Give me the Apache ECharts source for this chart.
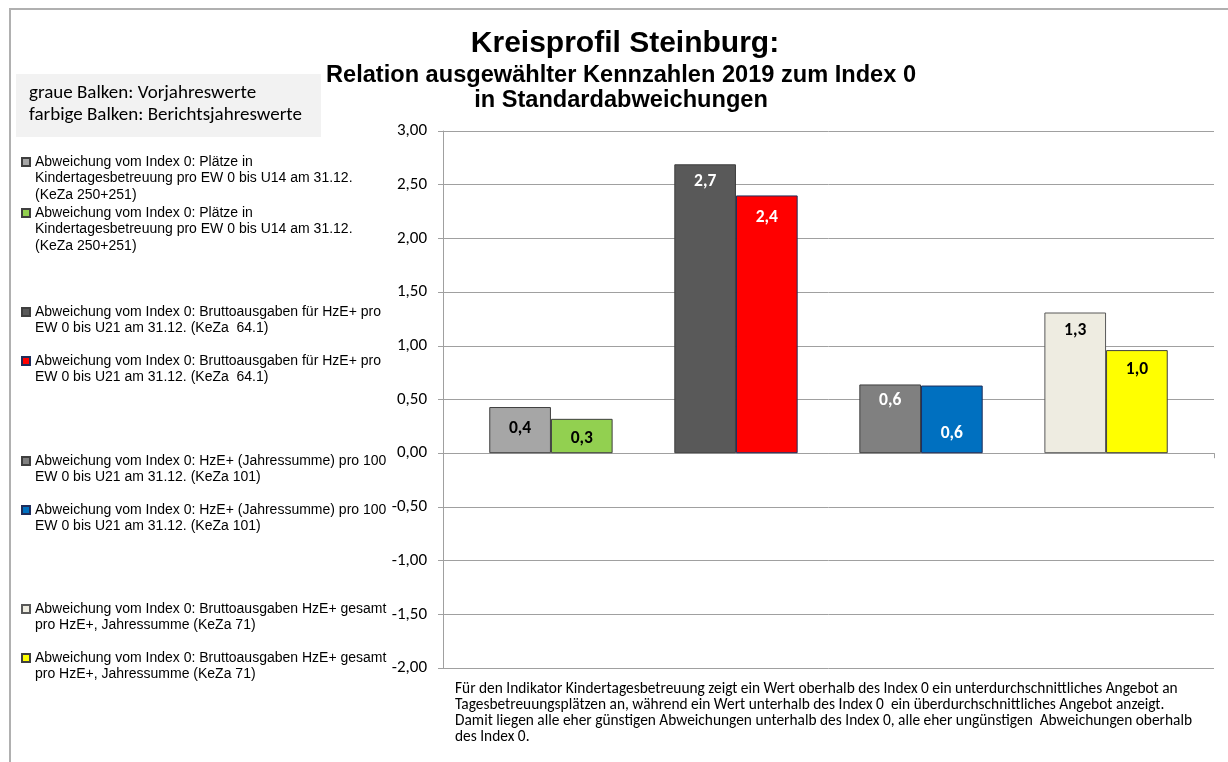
<!DOCTYPE html>
<html lang="de">
<head>
<meta charset="utf-8">
<title>Kreisprofil Steinburg</title>
<script src="https://cdn.jsdelivr.net/npm/echarts@6/dist/echarts.min.js"></script>
<style>
  html, body { margin: 0; padding: 0; background: #fff; }
  #chart { width: 1228px; height: 762px; }
</style>
</head>
<body>
<div id="chart"></div>
<script>
// Indicator descriptions (legend texts), one per indicator
const indicatorTexts = [
  'Abweichung vom Index 0: Plätze in\nKindertagesbetreuung pro EW 0 bis U14 am 31.12.\n(KeZa 250+251)',
  'Abweichung vom Index 0: Bruttoausgaben für HzE+ pro\nEW 0 bis U21 am 31.12. (KeZa  64.1)',
  'Abweichung vom Index 0: HzE+ (Jahressumme) pro 100\nEW 0 bis U21 am 31.12. (KeZa 101)',
  'Abweichung vom Index 0: Bruttoausgaben HzE+ gesamt\npro HzE+, Jahressumme (KeZa 71)'
];
// Deviation from index 0 in standard deviations
const previousYear = [0.43, 2.69, 0.64, 1.31];   // grey bars
const reportYear   = [0.32, 2.40, 0.63, 0.96];   // coloured bars

// Y axis range
const yMin = -2, yMax = 3, yStep = 0.5;

// Styling per indicator
const prevColors   = ['#A6A6A6', '#595959', '#808080', '#EEECE1'];
const reportColors = ['#92D050', '#FF0000', '#0070C0', '#FFFF00'];
const prevBorders   = ['#3F3F3F', '#3F3F3F', '#3F3F3F', '#595959'];
const reportBorders = ['#3F3F3F', '#1F2D5A', '#1F2D5A', '#3F3F3F'];
const prevLabelColors   = ['#000', '#fff', '#fff', '#000'];
const reportLabelColors = ['#000', '#fff', '#fff', '#000'];
const prevLabelNudge   = [2, -2, -3, -1];
const reportLabelNudge = [0, 3, 29, 0];
// first-line centre of each legend entry (grey, coloured) per indicator
const legendLineY = [[162, 213], [312, 361], [461, 510], [609, 658]];

const calibri = 'Carlito, Calibri, Lato, sans-serif';
const arial = '"Liberation Sans", Arial, sans-serif';
const fmt1 = v => v.toFixed(1).replace('.', ',');

const series = [];
const legends = [];
const legendLH = 16.5;

function barSeries(name, value, color, border, labelColor, nudge) {
  return {
    type: 'bar',
    name: name,
    data: [value],
    barGap: '0%',
    barCategoryGap: '12%',
    itemStyle: { color: color, borderColor: border, borderWidth: 1 },
    label: {
      show: true,
      position: 'insideTop',
      distance: 10.5,
      offset: [0, nudge],
      formatter: p => fmt1(p.value),
      color: labelColor,
      fontFamily: calibri,
      fontWeight: 'bold',
      fontSize: 17.5
    },
    emphasis: { disabled: true }
  };
}

// The legend centres its text block on the marker; leading blank lines
// keep the marker level with the first text line.
function legendEntry(name, text, centerY) {
  const n = text.split('\n').length;
  const shown = '\n'.repeat(n - 1) + text;
  return {
    data: [name],
    left: 21,
    top: centerY - (2 * n - 1) * legendLH / 2,
    orient: 'vertical',
    padding: 0,
    icon: 'rect',
    itemWidth: 8,
    itemHeight: 8,
    selectedMode: false,
    formatter: () => shown,
    textStyle: {
      fontFamily: arial,
      fontSize: 14,
      lineHeight: legendLH,
      color: '#000'
    }
  };
}

indicatorTexts.forEach((text, i) => {
  const prevName = 'Vorjahr ' + (i + 1);
  const repName = 'Berichtsjahr ' + (i + 1);
  series.push(barSeries(prevName, previousYear[i], prevColors[i], prevBorders[i], prevLabelColors[i], prevLabelNudge[i]));
  series.push(barSeries(repName, reportYear[i], reportColors[i], reportBorders[i], reportLabelColors[i], reportLabelNudge[i]));
  if (i < indicatorTexts.length - 1) {
    // empty slot between the indicator pairs
    series.push({ type: 'bar', name: 'leer ' + (i + 1), data: ['-'], barGap: '0%', barCategoryGap: '12%', silent: true });
  }
  legends.push(legendEntry(prevName, text, legendLineY[i][0]));
  legends.push(legendEntry(repName, text, legendLineY[i][1]));
});

const noteText =
  'Für den Indikator Kindertagesbetreuung zeigt ein Wert oberhalb des Index 0 ein unterdurchschnittliches Angebot an\n' +
  'Tagesbetreuungsplätzen an, während ein Wert unterhalb des Index 0  ein überdurchschnittliches Angebot anzeigt.\n' +
  'Damit liegen alle eher günstigen Abweichungen unterhalb des Index 0, alle eher ungünstigen  Abweichungen oberhalb\n' +
  'des Index 0.';

const chart = echarts.init(document.getElementById('chart'), null, { renderer: 'canvas' });
chart.setOption({
  animation: false,
  backgroundColor: '#fff',
  title: [
    {
      text: 'Kreisprofil Steinburg:',
      left: 625, top: 29, padding: 0, textAlign: 'center',
      textStyle: { fontFamily: arial, fontWeight: 'bold', fontSize: 30, lineHeight: 30, color: '#000' }
    },
    {
      text: 'Relation ausgewählter Kennzahlen 2019 zum Index 0\nin Standardabweichungen',
      left: 621, top: 63, padding: 0, textAlign: 'center',
      textStyle: { fontFamily: arial, fontWeight: 'bold', fontSize: 23.6, lineHeight: 25, color: '#000' }
    }
  ],
  legend: legends,
  grid: { left: 443, right: 14, top: 131, bottom: 94, containLabel: false },
  xAxis: {
    type: 'category',
    data: [''],
    axisLine: { onZero: true, lineStyle: { color: '#A0A0A0', width: 1 } },
    axisTick: { show: true, length: 5, lineStyle: { color: '#A0A0A0' } },
    axisLabel: { show: false },
    splitLine: { show: false }
  },
  yAxis: {
    type: 'value',
    min: yMin, max: yMax, interval: yStep,
    axisLine: { show: true, lineStyle: { color: '#A0A0A0', width: 1 } },
    axisTick: { show: true, length: 5, lineStyle: { color: '#A0A0A0' } },
    axisLabel: {
      margin: 16,
      fontFamily: calibri, fontSize: 17, color: '#000',
      formatter: v => v.toFixed(2).replace('.', ',')
    },
    splitLine: { show: true, lineStyle: { color: '#A0A0A0', width: 1 } }
  },
  series: series,
  graphic: [
    {
      type: 'rect', z: -1, silent: true,
      shape: { x: 10, y: 9, width: 1400, height: 900 },
      style: { fill: 'none', stroke: '#B0B0B0', lineWidth: 2 }
    },
    {
      type: 'rect', silent: true,
      shape: { x: 16, y: 74, width: 305, height: 63 },
      style: { fill: '#F2F2F2' }
    },
    {
      type: 'text', silent: true, x: 29, y: 93,
      style: { text: 'graue Balken: Vorjahreswerte', fontFamily: calibri, fontSize: 19, fill: '#000', verticalAlign: 'middle' }
    },
    {
      type: 'text', silent: true, x: 29, y: 115,
      style: { text: 'farbige Balken: Berichtsjahreswerte', fontFamily: calibri, fontSize: 19, fill: '#000', verticalAlign: 'middle' }
    },
    {
      type: 'text', silent: true, x: 455, y: 681,
      style: { text: noteText, fontFamily: calibri, fontSize: 15.4, lineHeight: 16, fill: '#000', verticalAlign: 'top' }
    }
  ]
});
</script>
</body>
</html>
